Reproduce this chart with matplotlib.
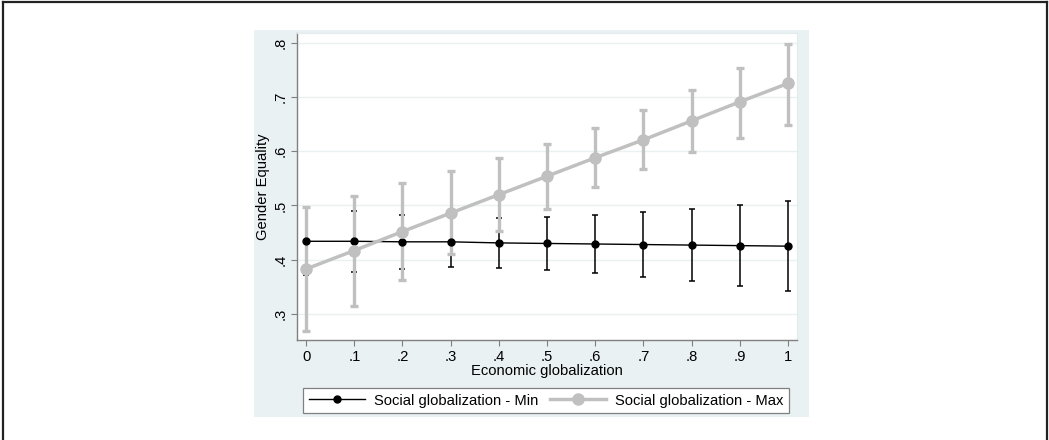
import matplotlib

matplotlib.use("Agg")
import matplotlib.pyplot as plt
from matplotlib.lines import Line2D
from matplotlib.patches import Rectangle

plt.rcParams["font.family"] = ["Liberation Sans", "DejaVu Sans"]

# margins at each level of economic globalization
econ = [0, 0.1, 0.2, 0.3, 0.4, 0.5, 0.6, 0.7, 0.8, 0.9, 1.0]
x_labels = ["0", ".1", ".2", ".3", ".4", ".5", ".6", ".7", ".8", ".9", "1"]
y_ticks = [0.3, 0.4, 0.5, 0.6, 0.7, 0.8]
y_labels = [".3", ".4", ".5", ".6", ".7", ".8"]

min_mean = [0.434, 0.434, 0.433, 0.433, 0.431, 0.430, 0.429, 0.428, 0.427, 0.426, 0.425]
min_lo = [0.372, 0.378, 0.383, 0.386, 0.385, 0.381, 0.376, 0.369, 0.360, 0.351, 0.342]
min_hi = [0.496, 0.490, 0.483, 0.480, 0.477, 0.479, 0.482, 0.488, 0.493, 0.501, 0.508]

max_mean = [0.383, 0.417, 0.452, 0.486, 0.520, 0.554, 0.588, 0.621, 0.656, 0.691, 0.725]
max_lo = [0.269, 0.315, 0.362, 0.410, 0.453, 0.494, 0.534, 0.568, 0.598, 0.625, 0.649]
max_hi = [0.498, 0.518, 0.541, 0.563, 0.587, 0.614, 0.642, 0.676, 0.713, 0.754, 0.798]

W, H = 1049, 440
panel_col = "#E9F1F3"
gray = "#C0C0C0"
fs = 10.6

fig = plt.figure(figsize=(W / 100, H / 100), dpi=100)

# stata graph region, behind the axes
fig.patches.append(Rectangle((254 / W, 1 - 417 / H), (809 - 254) / W, (417 - 30) / H,
                             transform=fig.transFigure, facecolor=panel_col,
                             edgecolor="none", zorder=-5))
# outer frame (left, top, right)
for xs, ys in [([3, 3], [0, 2]), ([3, 1047], [2, 2]), ([1047, 1047], [2, 0])]:
    fig.add_artist(Line2D([x / W for x in xs], [1 - y / H if y else 0 for y in ys],
                          transform=fig.transFigure, color="#222222", lw=1.6))

ax = fig.add_axes([297 / W, 1 - 340 / H, 500 / W, 307 / H])
ax.set_facecolor("white")

# confidence intervals (black first, gray on top), then lines and markers
def ci(mean, lo, hi, color, lw, cap, z):
    err = [[m - l for m, l in zip(mean, lo)], [h - m for m, h in zip(mean, hi)]]
    ax.errorbar(econ, mean, yerr=err, fmt="none", ecolor=color, elinewidth=lw,
                capsize=cap, capthick=lw, zorder=z)

ci(min_mean, min_lo, min_hi, "black", 1.1, 2.3, 3)
ci(max_mean, max_lo, max_hi, gray, 2.4, 3.0, 4)
ax.plot(econ, min_mean, color="black", lw=1.0, marker="o", ms=5, zorder=5,
        label="Social globalization - Min")
ax.plot(econ, max_mean, color=gray, lw=2.5, marker="o", ms=8, zorder=6,
        label="Social globalization - Max")

ax.set_xlim(-0.019, 1.019)
ax.set_ylim(0.252, 0.818)
ax.set_xticks(econ)
ax.set_xticklabels(x_labels)
ax.set_yticks(y_ticks)
ax.set_yticklabels(y_labels, rotation=90, va="center")
ax.grid(axis="y", color=panel_col, lw=1.0, zorder=0)
ax.set_axisbelow(True)
ax.tick_params(labelsize=fs, color="#808080", length=4, width=0.8, pad=3)
for s in ("top", "right"):
    ax.spines[s].set_color("#E2ECEE")
for s in ("left", "bottom"):
    ax.spines[s].set_color("#808080")
    ax.spines[s].set_linewidth(1.0)

ax.set_xlabel("Economic globalization", fontsize=fs, labelpad=0)
ax.set_ylabel("Gender Equality", fontsize=fs, labelpad=2)

handles, labels = ax.get_legend_handles_labels()
leg = fig.legend(handles, labels, ncol=2, loc="center", mode="expand",
                 bbox_to_anchor=(303 / W, 1 - 414 / H, (789 - 303) / W, 27 / H),
                 fontsize=fs, frameon=True, fancybox=False, framealpha=1,
                 handlelength=3.8, borderaxespad=0, handletextpad=0.6,
                 columnspacing=1.5)
leg.get_frame().set_edgecolor("#808080")
leg.get_frame().set_linewidth(0.9)

fig.savefig("out.png", dpi=100)
